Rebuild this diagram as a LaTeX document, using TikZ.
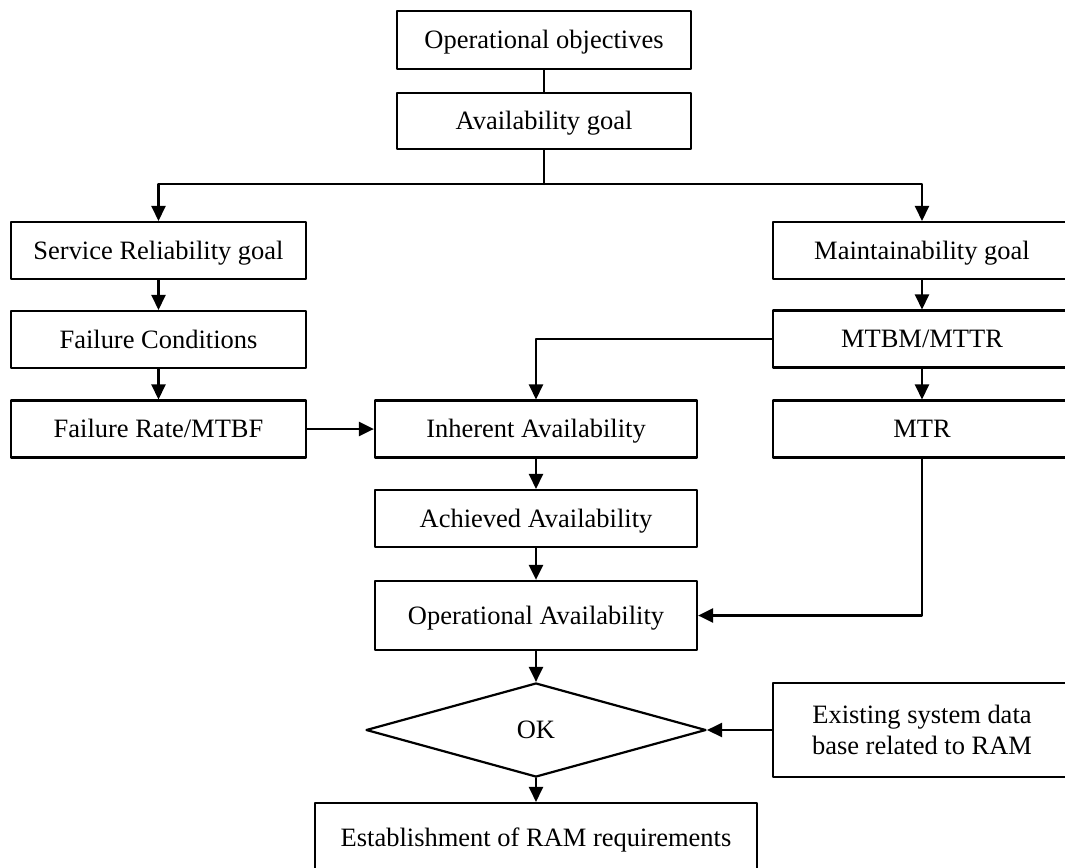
\documentclass[tikz,border=0pt]{standalone}
\usepackage{fontspec}
\setmainfont{Liberation Serif}
\usetikzlibrary{arrows.meta,shapes.geometric}
\begin{document}
\begin{tikzpicture}[x=0.453pt,y=-0.453pt,line width=1pt,line cap=round,line join=round,
  box/.style={draw,rectangle,inner sep=0pt,minimum width=133.6pt,minimum height=25.8pt,
    text height=7.9pt,text depth=0pt,font=\fontsize{12}{14}\selectfont},
  midbox/.style={box,minimum width=145.9pt},
  flow/.style={-{Triangle[length=6.8pt,width=6.4pt]}}]
  \clip (0,0) rectangle (1065,868);
  \node[box,minimum width=133.2pt,minimum height=26.3pt] (obj) at (544,40) {Operational objectives};
  \node[box,minimum width=133.2pt,minimum height=25.4pt] (goal) at (544,121) {Availability goal};
  \coordinate (split) at (544,184);
  \node[box] (rel) at (158.5,250.5) {Service Reliability goal};
  \node[box] (cond) at (158.5,339.5) {Failure Conditions};
  \node[box] (rate) at (158.5,429) {Failure Rate/MTBF};
  \node[box,minimum width=135pt] (maint) at (922,250.5) {Maintainability goal};
  \node[box,minimum width=135pt] (mtbm) at (922,339) {MTBM/MTTR};
  \node[box,minimum width=135pt] (mtr) at (922,429) {MTR};
  \node[midbox] (inh) at (536,429) {Inherent Availability};
  \node[midbox] (ach) at (536,518.5) {Achieved Availability};
  \node[midbox,minimum height=31.3pt] (opav) at (536,615.5) {Operational Availability};
  \node[draw,diamond,inner sep=0pt,minimum width=154pt,minimum height=42.6pt,
    text height=7.9pt,text depth=0pt,font=\fontsize{12}{14}\selectfont] (ok) at (536,730) {OK};
  \node[draw,rectangle,inner sep=0pt,minimum width=135pt,minimum height=42.6pt,align=center,
    font=\fontsize{12}{14}\selectfont] (exist) at (922,730) {Existing system data\\base related to RAM};
  \node[box,minimum width=200.2pt,minimum height=31.7pt] (est) at (536,838) {Establishment of RAM requirements};
  \draw (obj) -- (goal);
  \draw (goal) -- (split);
  \draw[flow] (split) -| (rel);
  \draw[flow] (split) -| (maint);
  \draw[flow] (rel) -- (cond);
  \draw[flow] (cond) -- (rate);
  \draw[flow] (maint) -- (mtbm);
  \draw[flow] (mtbm) -- (mtr);
  \draw[flow] (mtbm.west) -| (inh.north);
  \draw[flow] (rate) -- (inh);
  \draw[flow] (inh) -- (ach);
  \draw[flow] (ach) -- (opav);
  \draw[flow] (mtr.south) |- (opav.east);
  \draw[flow] (opav) -- (ok);
  \draw[flow] (exist.west) -- (ok.east);
  \draw[flow] (ok) -- (est);
\end{tikzpicture}
\end{document}
